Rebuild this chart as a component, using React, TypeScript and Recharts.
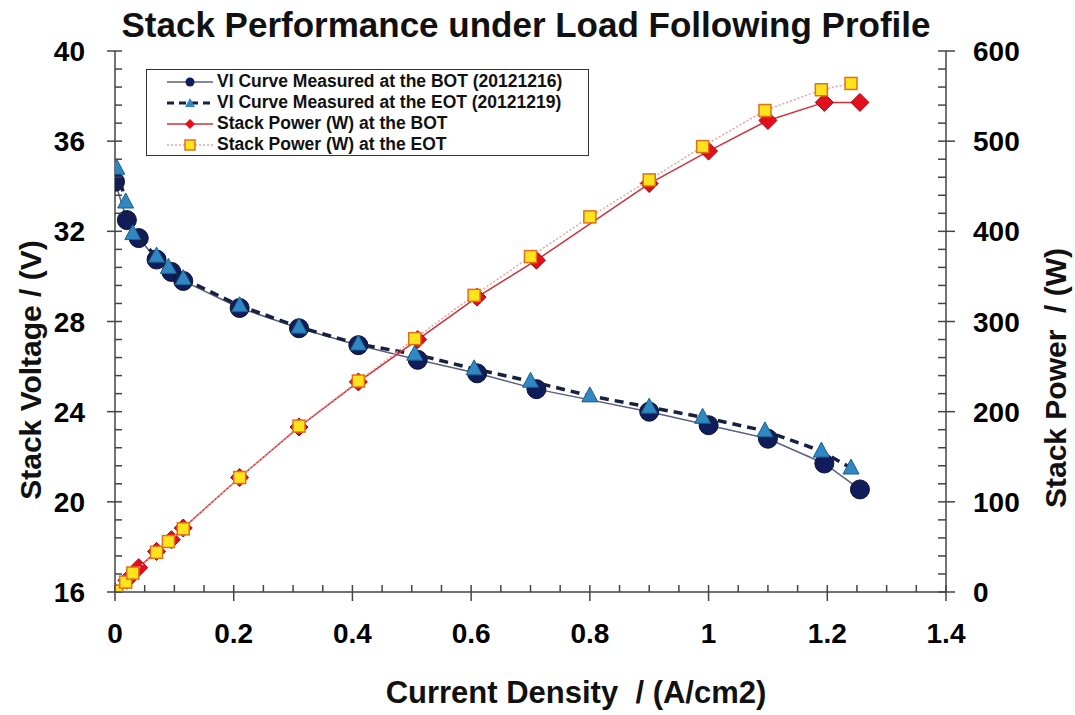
import React from "react";
import { ComposedChart, Scatter, XAxis, YAxis, Legend, Label } from "recharts";

const FONT = "Arial, 'Liberation Sans', Helvetica, sans-serif";

// current density (A/cm2), stack voltage (V), stack power (W)
const botCurrent = [0, 0.02, 0.04, 0.07, 0.095, 0.115, 0.21, 0.31, 0.41, 0.51, 0.61, 0.71, 0.9, 1.0, 1.1, 1.195, 1.255];
const botVoltage = [34.2, 32.5, 31.7, 30.75, 30.2, 29.8, 28.6, 27.7, 26.95, 26.3, 25.7, 25.0, 24.0, 23.4, 22.8, 21.7, 20.55];
const botPower = [0, 13, 27, 45, 58, 71, 127, 183, 233, 280, 327, 368, 453, 489, 523, 543, 543];

const eotCurrent = [0.003, 0.018, 0.03, 0.07, 0.09, 0.115, 0.21, 0.31, 0.41, 0.505, 0.605, 0.7, 0.8, 0.9, 0.99, 1.095, 1.19, 1.24];
const eotVoltage = [34.8, 33.3, 31.9, 30.9, 30.4, 29.9, 28.7, 27.75, 27.0, 26.55, 25.9, 25.35, 24.7, 24.2, 23.75, 23.15, 22.25, 21.5];
const eotPower = [1, 11, 21, 44, 56, 70, 127, 184, 234, 281, 329, 372, 416, 457, 494, 534, 557, 564];

// labelled (major) ticks
const xTicks = [0, 0.2, 0.4, 0.6, 0.8, 1, 1.2, 1.4];
const voltTicks = [16, 20, 24, 28, 32, 36, 40];
const powerTicks = [0, 100, 200, 300, 400, 500, 600];

// all tick marks incl. minor ones
const xAll = Array.from({ length: 29 }, (_, i) => +(i * 0.05).toFixed(2));
const voltAll = Array.from({ length: 31 }, (_, i) => +(16 + i * 0.8).toFixed(1));
const powerAll = Array.from({ length: 31 }, (_, i) => i * 20);

const botVI = botCurrent.map((x, i) => ({ x, y: botVoltage[i] }));
const eotVI = eotCurrent.map((x, i) => ({ x, y: eotVoltage[i] }));
const botPW = botCurrent.map((x, i) => ({ x, y: botPower[i] }));
const eotPW = eotCurrent.map((x, i) => ({ x, y: eotPower[i] }));

const AXIS = "#444";
const TICK_FONT = 28;

// tick renderers: major ticks cross the axis, minor ticks point inwards
const XTick = (props: any) => {
  const { x, y, payload } = props;
  const major = xTicks.includes(payload.value);
  return (
    <g>
      <line x1={x} y1={major ? y + 9 : y} x2={x} y2={y - 7} stroke={AXIS} strokeWidth={1.5} />
      {major && (
        <text x={x} y={y + 51} textAnchor="middle" fontFamily={FONT} fontWeight="bold" fontSize={TICK_FONT} fill="#000">
          {payload.value}
        </text>
      )}
    </g>
  );
};

const VoltTick = (props: any) => {
  const { x, y, payload } = props;
  const major = voltTicks.includes(payload.value);
  return (
    <g>
      <line x1={major ? x - 8 : x} y1={y} x2={x + 7} y2={y} stroke={AXIS} strokeWidth={1.5} />
      {major && (
        <text x={x - 30} y={y} dy="0.36em" textAnchor="end" fontFamily={FONT} fontWeight="bold" fontSize={TICK_FONT} fill="#000">
          {payload.value}
        </text>
      )}
    </g>
  );
};

const PowerTick = (props: any) => {
  const { x, y, payload } = props;
  const major = powerTicks.includes(payload.value);
  return (
    <g>
      <line x1={x - 8} y1={y} x2={major ? x + 9 : x} y2={y} stroke={AXIS} strokeWidth={1.5} />
      {major && (
        <text x={x + 27} y={y} dy="0.36em" textAnchor="start" fontFamily={FONT} fontWeight="bold" fontSize={TICK_FONT} fill="#000">
          {payload.value}
        </text>
      )}
    </g>
  );
};

const CircleDot = (p: any) => (
  <circle cx={p.cx} cy={p.cy} r={9.5} fill="#111c5a" stroke="#0a1036" strokeWidth={1} />
);
const TriangleDot = (p: any) => (
  <polygon
    points={`${p.cx},${p.cy - 9} ${p.cx - 8},${p.cy + 6} ${p.cx + 8},${p.cy + 6}`}
    fill="#2f88c2"
    stroke="#1c5e8c"
    strokeWidth={1}
  />
);
const DiamondDot = (p: any) => (
  <polygon
    points={`${p.cx},${p.cy - 9} ${p.cx + 9},${p.cy} ${p.cx},${p.cy + 9} ${p.cx - 9},${p.cy}`}
    fill="#e0101c"
    stroke="#b0000e"
    strokeWidth={1}
  />
);
const SquareDot = (p: any) => (
  <rect x={p.cx - 6} y={p.cy - 6} width={12} height={12} fill="#ffe31c" stroke="#e0701a" strokeWidth={1.5} />
);

const legendItems = [
  { label: "VI Curve Measured at the BOT (20121216)", stroke: "#5b5f80", width: 1.5, dash: undefined, dot: "circle" },
  { label: "VI Curve Measured at the EOT (20121219)", stroke: "#16213f", width: 3, dash: "7 5", dot: "triangle" },
  { label: "Stack Power (W) at the BOT", stroke: "#d0303a", width: 1.5, dash: undefined, dot: "diamond" },
  { label: "Stack Power (W) at the EOT", stroke: "#f0a0a0", width: 1.5, dash: "2 2", dot: "square" },
];

const LegendIcon = ({ item }: any) => {
  const cx = 23;
  const cy = 10;
  let marker = null;
  if (item.dot === "circle") marker = <circle cx={cx} cy={cy} r={4.5} fill="#111c5a" />;
  if (item.dot === "triangle")
    marker = <polygon points={`${cx},${cy - 5} ${cx - 5},${cy + 4} ${cx + 5},${cy + 4}`} fill="#2f88c2" />;
  if (item.dot === "diamond")
    marker = <polygon points={`${cx},${cy - 5} ${cx + 5},${cy} ${cx},${cy + 5} ${cx - 5},${cy}`} fill="#e0101c" />;
  if (item.dot === "square")
    marker = <rect x={cx - 5} y={cy - 5} width={10} height={10} fill="#ffe31c" stroke="#e0701a" strokeWidth={1.5} />;
  return (
    <svg width={46} height={20} style={{ display: "block" }}>
      <line x1={0} y1={cy} x2={46} y2={cy} stroke={item.stroke} strokeWidth={item.width} strokeDasharray={item.dash} />
      {marker}
    </svg>
  );
};

const renderLegend = () => (
  <div
    style={{
      border: "1.5px solid #333",
      background: "#fff",
      padding: "1px 0 1px 20px",
      boxSizing: "border-box",
      width: 443,
      height: 87,
      fontFamily: FONT,
      fontWeight: "bold",
      fontSize: 17.5,
      color: "#111",
    }}
  >
    {legendItems.map((item) => (
      <div key={item.label} style={{ display: "flex", alignItems: "center", height: 21 }}>
        <LegendIcon item={item} />
        <span style={{ marginLeft: 4, whiteSpace: "nowrap" }}>{item.label}</span>
      </div>
    ))}
  </div>
);

const labelText = (x: number, y: number, text: string, rotate: boolean, size = 30) => (
  <text
    x={x}
    y={y}
    transform={rotate ? `rotate(-90, ${x}, ${y})` : undefined}
    textAnchor="middle"
    dominantBaseline={rotate ? "central" : undefined}
    fontFamily={FONT}
    fontWeight="bold"
    fontSize={size}
    fill="#111"
    style={{ whiteSpace: "pre" }}
  >
    {text}
  </text>
);

const App = () => {
  return (
    <div style={{ position: "absolute", left: 0, top: 0, width: 1075, height: 715, background: "#fff" }}>
      <ComposedChart width={1075} height={715} margin={{ top: 51, right: 0, bottom: 0, left: 0 }}>
        <XAxis
          xAxisId="main"
          type="number"
          dataKey="x"
          domain={[0, 1.4]}
          allowDataOverflow
          ticks={xAll}
          interval={0}
          height={123}
          tickSize={0}
          tickMargin={0}
          tickLine={false}
          stroke={AXIS}
          strokeWidth={1.5}
          tick={<XTick />}
        >
          <Label content={() => labelText(576, 703, "Current Density  / (A/cm2)", false, 31)} />
        </XAxis>
        <XAxis
          xAxisId="top"
          orientation="top"
          type="number"
          domain={[0, 1.4]}
          allowDataOverflow
          height={0}
          tick={false}
          tickLine={false}
          stroke="#888"
          strokeWidth={1.2}
        />
        <YAxis
          yAxisId="volt"
          dataKey="y"
          type="number"
          domain={[16, 40]}
          allowDataOverflow
          ticks={voltAll}
          interval={0}
          width={115}
          tickSize={0}
          tickMargin={0}
          tickLine={false}
          stroke={AXIS}
          strokeWidth={1.5}
          tick={<VoltTick />}
        >
          <Label content={() => labelText(30, 370, "Stack Voltage / (V)", true)} />
          <Label
            content={() => (
              <text x={526} y={37} textAnchor="middle" fontFamily={FONT} fontWeight="bold" fontSize={35} fill="#111">
                Stack Performance under Load Following Profile
              </text>
            )}
          />
        </YAxis>
        <YAxis
          yAxisId="power"
          orientation="right"
          dataKey="y"
          type="number"
          domain={[0, 600]}
          allowDataOverflow
          ticks={powerAll}
          interval={0}
          width={129}
          tickSize={0}
          tickMargin={0}
          tickLine={false}
          stroke={AXIS}
          strokeWidth={1.5}
          tick={<PowerTick />}
        >
          <Label content={() => labelText(1055, 378, "Stack Power  / (W)", true)} />
        </YAxis>
        <Legend
          layout="horizontal"
          verticalAlign="middle"
          align="center"
          content={renderLegend}
          wrapperStyle={{ position: "absolute", left: 146, top: 69, width: 443, height: 87 }}
        />
        <Scatter
          name="VI Curve Measured at the BOT (20121216)"
          data={botVI}
          xAxisId="main"
          yAxisId="volt"
          line={{ stroke: "#5b5f80", strokeWidth: 1.5 }}
          shape={CircleDot}
          isAnimationActive={false}
        />
        <Scatter
          name="VI Curve Measured at the EOT (20121219)"
          data={eotVI}
          xAxisId="main"
          yAxisId="volt"
          line={{ stroke: "#16213f", strokeWidth: 3.5, strokeDasharray: "9 6" }}
          shape={TriangleDot}
          isAnimationActive={false}
        />
        <Scatter
          name="Stack Power (W) at the BOT"
          data={botPW}
          xAxisId="main"
          yAxisId="power"
          line={{ stroke: "#d0303a", strokeWidth: 1.5 }}
          shape={DiamondDot}
          isAnimationActive={false}
        />
        <Scatter
          name="Stack Power (W) at the EOT"
          data={eotPW}
          xAxisId="main"
          yAxisId="power"
          line={{ stroke: "#f0a0a0", strokeWidth: 1.5, strokeDasharray: "2 2" }}
          shape={SquareDot}
          isAnimationActive={false}
        />
      </ComposedChart>
    </div>
  );
};

export default App;
